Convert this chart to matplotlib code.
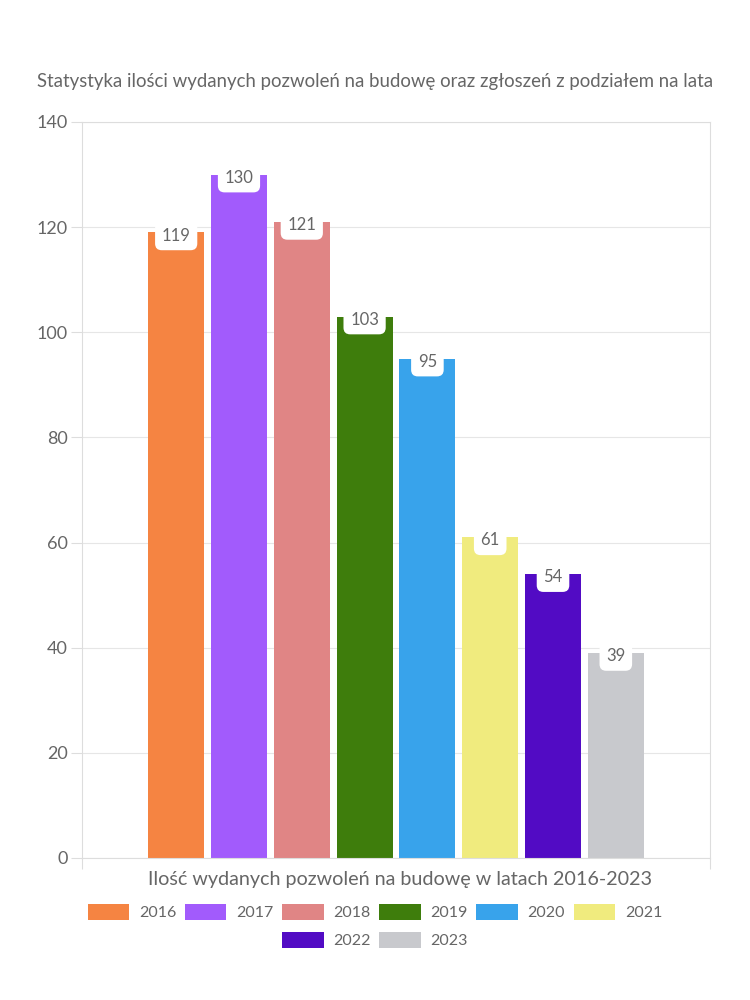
import matplotlib.pyplot as plt
import numpy as np

# --- DATA ---
years = ['2016', '2017', '2018', '2019', '2020', '2021', '2022', '2023']
values = [119, 130, 121, 103, 95, 61, 54, 39]
colours = ['#F58442', '#A25BFC', '#E08585', '#3E7D0C',
           '#38A3EB', '#F0EB7E', '#520BC4', '#C8C9CD']
title = 'Statystyka ilości wydanych pozwoleń na budowę oraz zgłoszeń z podziałem na lata'
xlabel = 'Ilość wydanych pozwoleń na budowę w latach 2016-2023'

TXT = '#666666'
GRID = '#e6e6e6'
plt.rcParams['font.family'] = ['Lato', 'DejaVu Sans']

fig = plt.figure(figsize=(7.5, 10), dpi=100)
ax = fig.add_axes([0.1093, 0.142, 0.8374, 0.736])

# one category, eight series side by side
step = 0.1
width = 0.089
xs = 0.5 + (np.arange(len(years)) - (len(years) - 1) / 2) * step
bars = []
for x, v, c, y in zip(xs, values, colours, years):
    b = ax.bar(x, v, width=width, color=c, label=y, zorder=2)
    bars.append(b)
    ax.text(x, v - 0.6, str(v), ha='center', va='center', fontsize=12,
            color=TXT, zorder=3,
            bbox=dict(boxstyle='round,pad=0.4,rounding_size=0.4',
                      fc='white', ec='none'))

ax.set_xlim(0, 1)
ax.set_ylim(0, 140)
ax.set_yticks(np.arange(0, 141, 20))
ax.set_xticks([0, 1])
ax.set_xticklabels([])
ax.grid(axis='y', color=GRID, linewidth=0.8, zorder=0)
for s in ax.spines.values():
    s.set_color('#dddddd')
    s.set_linewidth(0.8)
ax.tick_params(axis='y', colors='#dddddd', labelcolor=TXT, labelsize=13,
               length=8, width=0.8, pad=2)
ax.tick_params(axis='x', colors='#dddddd', length=8, width=0.8)

fig.text(0.5, 0.918, title, ha='center', va='center', fontsize=13.4, color=TXT)
fig.text(0.533, 0.120, xlabel, ha='center', va='center', fontsize=14.2, color=TXT)

opts = dict(frameon=False, fontsize=11.5, labelcolor=TXT,
            handlelength=2.6, handleheight=1.25, handletextpad=0.6,
            columnspacing=0.55)
leg1 = fig.legend(handles=bars[:6], loc='center', bbox_to_anchor=(0.5, 0.088),
                  ncol=6, **opts)
leg2 = fig.legend(handles=bars[6:], loc='center', bbox_to_anchor=(0.5, 0.060),
                  ncol=2, **opts)

fig.savefig('out.png', dpi=100)
